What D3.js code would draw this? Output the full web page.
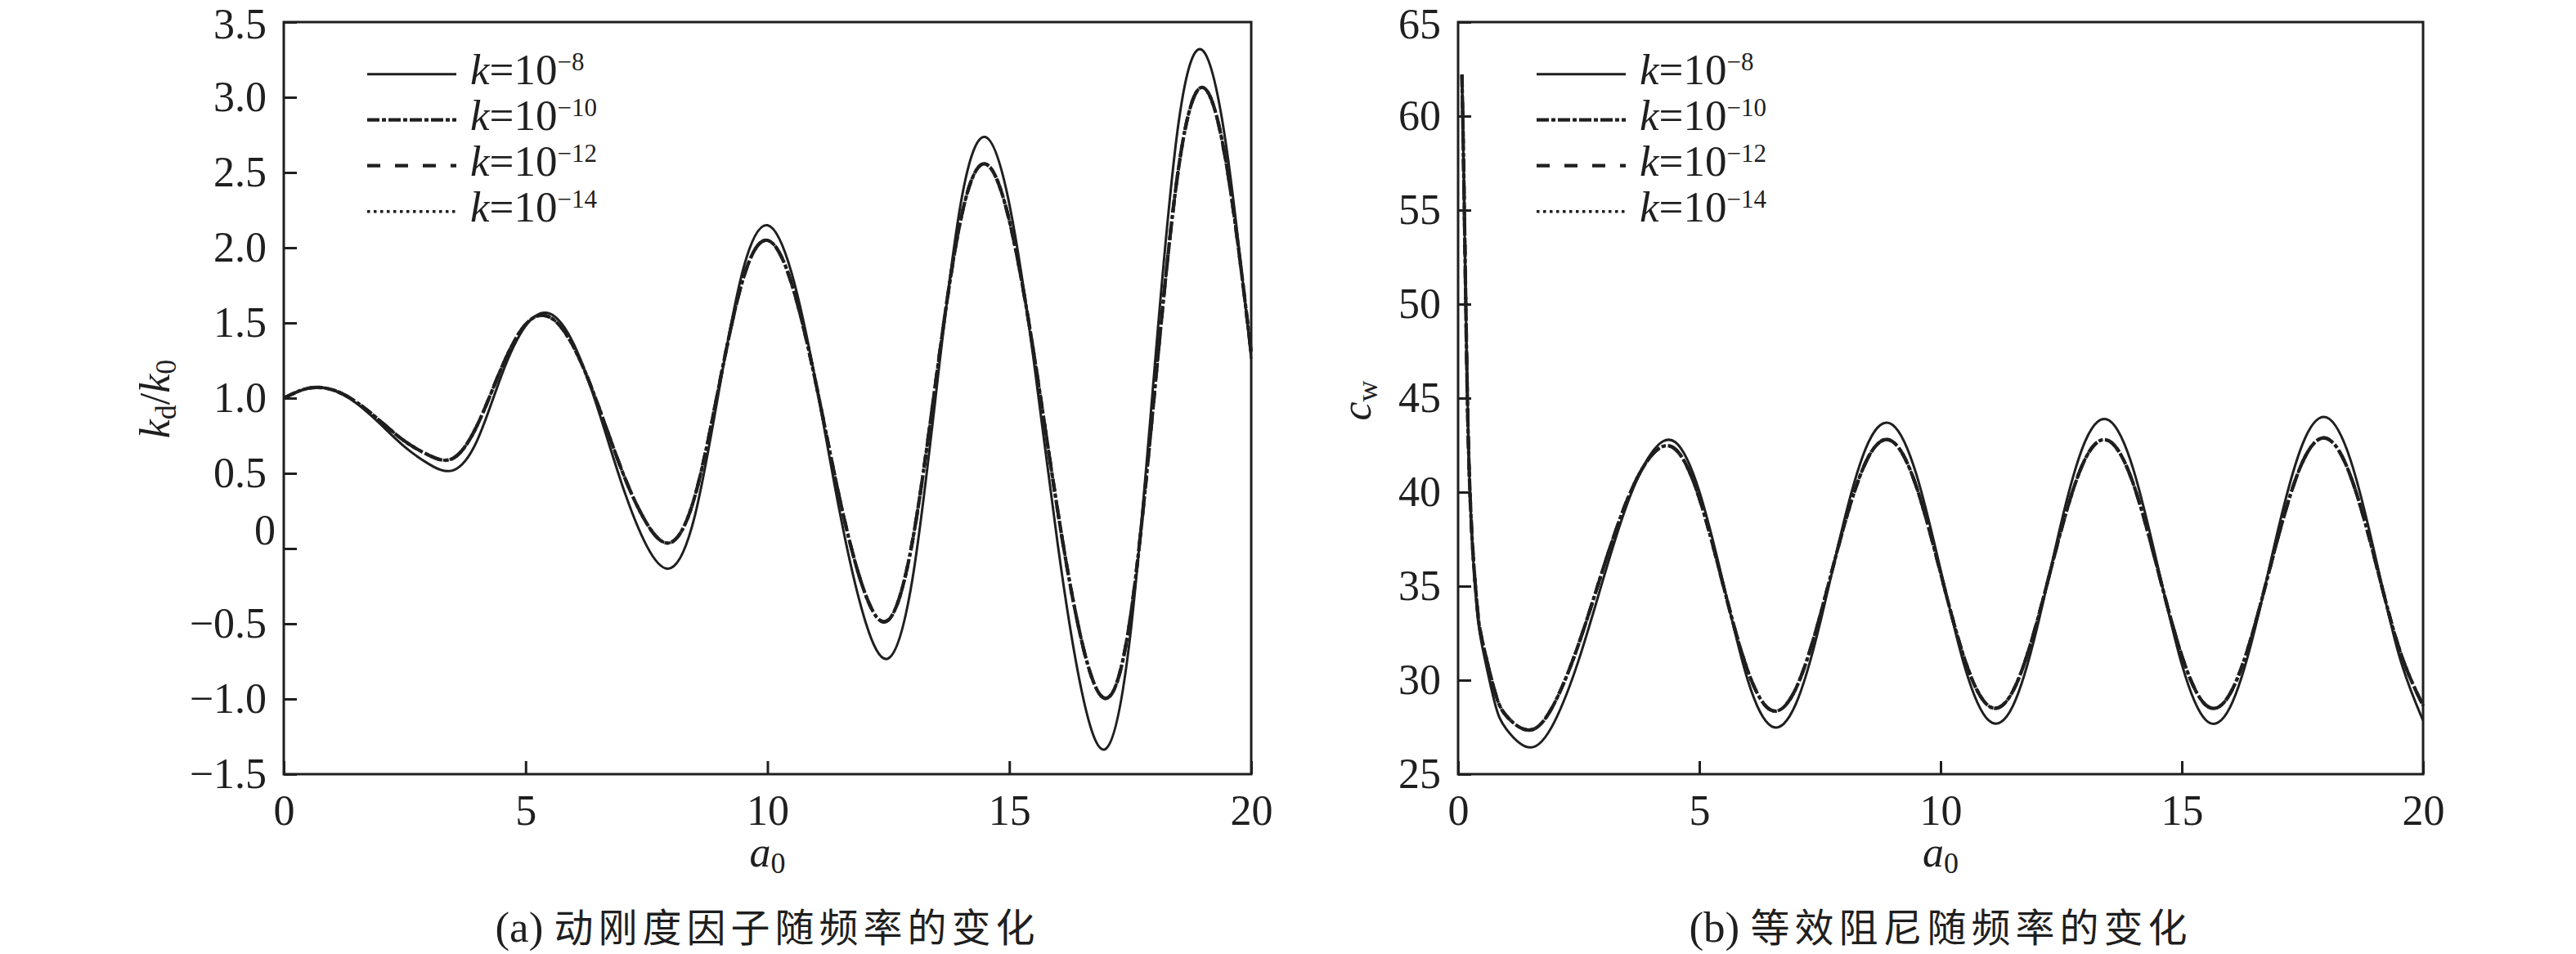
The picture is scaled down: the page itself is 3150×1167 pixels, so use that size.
<!DOCTYPE html>
<html>
<head>
<meta charset="utf-8">
<script src="https://cdn.jsdelivr.net/npm/d3@7"></script>
<style>
  html, body { margin: 0; padding: 0; background: #fff; }
  svg { display: block; }
  text { font-family: "Liberation Serif", "Times New Roman", serif; fill: #1f1f1f; }
</style>
</head>
<body>
<svg id="chart" width="3150" height="1167"></svg>
<script>
// ---- data ----
// (a) dynamic stiffness factor kd/k0 vs a0
const aGrid = [0, 0.5, 1, 1.5, 2, 2.5, 3, 3.5, 4, 4.5, 5, 5.5, 6, 6.5, 7, 7.5, 8, 8.5, 9, 9.5,
  10, 10.5, 11, 11.5, 12, 12.5, 13, 13.5, 14, 14.5, 15, 15.5, 16, 16.5, 17, 17.5, 18, 18.5, 19, 19.5, 20];
const kdK8 = [1.00, 1.065, 1.055, 0.966, 0.826, 0.676, 0.562, 0.52, 0.72, 1.15, 1.48, 1.562, 1.356, 0.923, 0.419,
  0.02, -0.13, 0.22, 1.056, 1.86, 2.149, 1.83, 1.103, 0.232, -0.46, -0.73, -0.197, 1.074, 2.303, 2.736, 2.29,
  1.26, 0.029, -0.954, -1.33, -0.577, 1.19, 2.834, 3.31, 2.64, 1.26];
// k=1e-10, 1e-12 and 1e-14 lie on top of each other in the figure
const kdK10to14 = [1.00, 1.065, 1.056, 0.974, 0.846, 0.714, 0.62, 0.60, 0.82, 1.2, 1.49, 1.538, 1.336, 0.951, 0.511,
  0.169, 0.04, 0.349, 1.085, 1.797, 2.049, 1.76, 1.10, 0.32, -0.283, -0.475, 0.054, 1.159, 2.194, 2.557, 2.18,
  1.309, 0.251, -0.621, -0.996, -0.463, 1.035, 2.533, 3.065, 2.53, 1.30];
const kdTickVals = [-1.5, -1.0, -0.5, 0, 0.5, 1.0, 1.5, 2.0, 2.5, 3.0, 3.5];
const kdTickLabels = ["\u22121.5", "\u22121.0", "\u22120.5", "0", "0.5", "1.0", "1.5", "2.0", "2.5", "3.0", "3.5"];

// (b) equivalent damping cw vs a0
const bGrid = [0.08, 0.12, 0.17, 0.22, 0.3, 0.4, 0.5, 0.75, 1.0, 1.5, 2, 2.5, 3, 3.5, 4, 4.5, 5, 5.5, 6, 6.5,
  7, 7.5, 8, 8.5, 9, 9.5, 10, 10.5, 11, 11.5, 12, 12.5, 13, 13.5, 14, 14.5, 15, 15.5, 16, 16.5, 17, 17.5,
  18, 18.5, 19, 19.5, 20];
const cwK8 = [62.2, 56.5, 48.3, 42.0, 37.0, 33.5, 31.8, 28.9, 27.4, 26.42, 27.8, 31.07, 35.31, 39.34, 42.05,
  42.66, 40.03, 35.115, 30.03, 27.54, 28.73, 33.01, 38.47, 42.62, 43.59, 40.93, 35.87, 30.71, 27.85, 28.64,
  32.79, 38.37, 42.72, 43.8, 41.17, 36.07, 30.84, 27.87, 28.56, 32.57, 38.06, 42.54, 43.97, 41.68, 36.7,
  31.34, 27.85];
const cwK10to14 = [62.2, 56.5, 48.3, 42.0, 37.1, 33.8, 32.1, 29.5, 28.1, 27.35, 28.79, 31.93, 35.88, 39.55, 41.93,
  42.29, 39.67, 35.0, 30.52, 28.39, 29.55, 33.4, 38.22, 41.85, 42.7, 40.28, 35.7, 31.1, 28.62, 29.42,
  33.12, 37.99, 41.78, 42.71, 40.4, 35.89, 31.29, 28.67, 29.28, 32.81, 37.65, 41.59, 42.86, 40.83, 36.44,
  31.71, 28.65];
const cwTickVals = [25, 30, 35, 40, 45, 50, 55, 60, 65];
const cwTickLabels = ["25", "30", "35", "40", "45", "50", "55", "60", "65"];

const xTickVals = [0, 5, 10, 15, 20];
const xTickLabels = ["0", "5", "10", "15", "20"];

const seriesNames = ["\u22128", "\u221210", "\u221212", "\u221214"];   // exponents of k
const captions = ["动刚度因子随频率的变化", "等效阻尼随频率的变化"];

// ---- layout ----
const svg = d3.select("#chart");
const plotTop = 27, plotBottom = 947;
const ink = "#1f1f1f";
const fontSize = 52;

const styles = [
  { width: 3, dash: null },
  { width: 4.2, dash: "15,3,5,3" },
  { width: 4.2, dash: "16,18" },
  { width: 3.6, dash: "3.5,4.5" }
];

const panels = [
  { tag: "(a) ", left: 347, right: 1530, grid: aGrid, domain: [-1.5, 3.5], ticks: kdTickVals, labels: kdTickLabels,
    series: [kdK8, kdK10to14, kdK10to14, kdK10to14], caption: captions[0], legendDx: 102, textDx: 228 },
  { tag: "(b) ", left: 1783, right: 2963, grid: bGrid, domain: [25, 65], ticks: cwTickVals, labels: cwTickLabels,
    series: [cwK8, cwK10to14, cwK10to14, cwK10to14], caption: captions[1], legendDx: 96, textDx: 222 }
];

panels.forEach((p, pi) => {
  const g = svg.append("g");
  const x = d3.scaleLinear().domain([0, 20]).range([p.left, p.right]);
  const y = d3.scaleLinear().domain(p.domain).range([plotBottom, plotTop]);
  const cx = (p.left + p.right) / 2;

  // curves (dense group first, solid on top)
  const line = d3.line()
    .x((d, i) => x(p.grid[i]))
    .y(d => y(d))
    .curve(d3.curveNatural);

  [1, 2, 3, 0].forEach(si => {
    g.append("path")
      .attr("d", line(p.series[si]))
      .attr("fill", "none")
      .attr("stroke", ink)
      .attr("stroke-width", styles[si].width)
      .attr("stroke-dasharray", styles[si].dash)
      .attr("stroke-linejoin", "round");
  });

  // frame
  g.append("rect")
    .attr("x", p.left).attr("y", plotTop)
    .attr("width", p.right - p.left).attr("height", plotBottom - plotTop)
    .attr("fill", "none").attr("stroke", ink).attr("stroke-width", 3);

  // axes with inward ticks
  const xAxis = d3.axisBottom(x)
    .tickValues(xTickVals)
    .tickFormat((d, i) => xTickLabels[i])
    .tickSizeInner(-16).tickSizeOuter(0).tickPadding(25);
  const yAxis = d3.axisLeft(y)
    .tickValues(p.ticks)
    .tickFormat((d, i) => p.labels[i])
    .tickSizeInner(-16).tickSizeOuter(0).tickPadding(21);

  const gx = g.append("g").attr("transform", "translate(0," + plotBottom + ")").call(xAxis);
  const gy = g.append("g").attr("transform", "translate(" + p.left + ",0)").call(yAxis);
  [gx, gy].forEach(ax => {
    ax.select(".domain").remove();
    ax.attr("font-family", "Liberation Serif, serif").attr("font-size", fontSize);
    ax.selectAll("line").attr("stroke", ink).attr("stroke-width", 3);
    ax.selectAll("text").attr("fill", ink);
  });
  // keep the top label inside the page
  gy.selectAll(".tick text").filter(d => d === p.domain[1]).attr("dy", "0.38em");
  if (pi === 0) {
    // the "0" label sits a little high in the original
    gy.selectAll(".tick text").filter(d => d === 0).attr("x", -10).attr("y", -22);
  }

  // x title a0
  const xt = g.append("text").attr("x", cx).attr("y", 1060)
    .attr("text-anchor", "middle").attr("font-size", fontSize);
  xt.append("tspan").attr("font-style", "italic").text("a");
  xt.append("tspan").attr("font-size", 36).attr("dy", 8).text("0");

  // y title
  if (pi === 0) {
    const yt = g.append("text").attr("transform", "translate(207,488) rotate(-90)")
      .attr("text-anchor", "middle").attr("font-size", fontSize);
    yt.append("tspan").attr("font-style", "italic").text("k");
    yt.append("tspan").attr("font-size", 36).attr("dy", 8).text("d");
    yt.append("tspan").attr("dy", -8).text("/");
    yt.append("tspan").attr("font-style", "italic").text("k");
    yt.append("tspan").attr("font-size", 36).attr("dy", 8).text("0");
  } else {
    const yt = g.append("text").attr("transform", "translate(1676,490) rotate(-90)")
      .attr("text-anchor", "middle").attr("font-size", fontSize);
    yt.append("tspan").attr("font-style", "italic").text("c");
    yt.append("tspan").attr("font-size", 36).attr("dy", 8).text("w");
  }

  // legend
  seriesNames.forEach((nm, si) => {
    const ly = 90.7 + 56 * si;
    g.append("line")
      .attr("x1", p.left + p.legendDx).attr("x2", p.left + p.legendDx + 109)
      .attr("y1", ly).attr("y2", ly)
      .attr("stroke", ink)
      .attr("stroke-width", styles[si].width)
      .attr("stroke-dasharray", styles[si].dash);
    const t = g.append("text").attr("x", p.left + p.textDx).attr("y", ly + 12).attr("font-size", 53);
    t.append("tspan").attr("font-style", "italic").text("k");
    t.append("tspan").text("=10");
    t.append("tspan").attr("font-size", 31).attr("dy", -17).text(nm);
  });

  // caption
  const cap = g.append("text").attr("x", cx).attr("y", 1152).attr("text-anchor", "middle");
  cap.append("tspan").attr("font-size", 53).text(p.tag);
  cap.append("tspan")
    .attr("font-family", "Noto Sans CJK SC")
    .attr("font-size", 48)
    .attr("letter-spacing", 6)
    .text(p.caption);
});
</script>
</body>
</html>
